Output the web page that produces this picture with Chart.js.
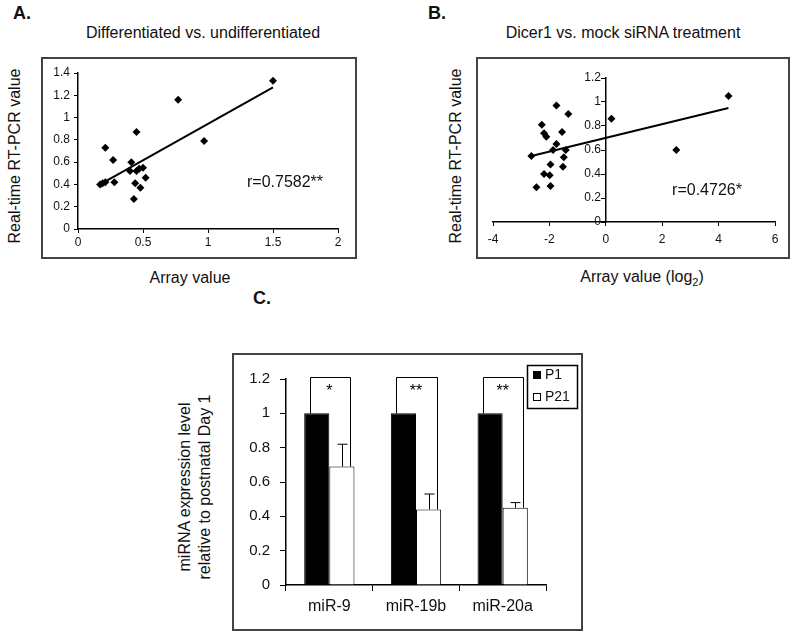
<!DOCTYPE html>
<html>
<head>
<meta charset="utf-8">
<script src="https://cdn.jsdelivr.net/npm/chart.js@4.4.1/dist/chart.umd.min.js"></script>
<style>
  body { margin: 0; background: #fff; width: 800px; height: 639px; position: relative; overflow: hidden;
         font-family: "Liberation Sans", Arial, sans-serif; color: #111; }
  .box { position: absolute; box-sizing: border-box; border: 2px solid #444; }
  .plot { position: absolute; }
  .txt { position: absolute; white-space: nowrap; transform: translate(-50%, -50%); font-size: 16px; line-height: 1.2; }
  .rot { transform: translate(-50%, -50%) rotate(-90deg); text-align: center; }
  .lab { font-weight: bold; font-size: 18px; }
</style>
</head>
<body>
<div class="box" style="left:41px;top:57px;width:316px;height:202px"></div>
<div class="box" style="left:476px;top:57px;width:314px;height:202px"></div>
<div class="box" style="left:232px;top:353px;width:351px;height:278px"></div>

<div class="plot" style="left:41px;top:57px;width:316px;height:202px"><canvas id="chartA"></canvas></div>
<div class="plot" style="left:476px;top:57px;width:314px;height:202px"><canvas id="chartB"></canvas></div>
<div class="plot" style="left:232px;top:353px;width:351px;height:278px"><canvas id="chartC"></canvas></div>

<div class="txt lab" style="left:22px;top:14px">A.</div>
<div class="txt lab" style="left:437px;top:14px">B.</div>
<div class="txt lab" style="left:262px;top:299px">C.</div>
<div class="txt" style="left:203px;top:33px">Differentiated vs. undifferentiated</div>
<div class="txt" style="left:623px;top:33px">Dicer1 vs. mock siRNA treatment</div>
<div class="txt rot" style="left:15px;top:156px">Real-time RT-PCR value</div>
<div class="txt rot" style="left:456px;top:156px">Real-time RT-PCR value</div>
<div class="txt" style="left:190px;top:278px">Array value</div>
<div class="txt" style="left:642px;top:278px">Array value (log<sub style="font-size:11px">2</sub>)</div>
<div class="txt" style="left:285px;top:182px">r=0.7582**</div>
<div class="txt" style="left:707px;top:190px">r=0.4726*</div>
<div class="txt rot" style="left:195px;top:487px;line-height:20px">miRNA expression level<br>relative to postnatal Day 1</div>

<script>
// Panel A: differentiated vs undifferentiated
const aArray = [1.50, 0.77, 0.45, 0.97, 0.21, 0.27, 0.41, 0.40, 0.45, 0.50, 0.47, 0.52, 0.44, 0.48, 0.43, 0.28, 0.21, 0.17, 0.19];
const aPcr = [1.33, 1.16, 0.87, 0.79, 0.73, 0.62, 0.60, 0.52, 0.52, 0.55, 0.54, 0.46, 0.41, 0.37, 0.27, 0.42, 0.42, 0.40, 0.41];
const aFitX = [0.17, 1.50];
const aFitY = [0.40, 1.27];
const aXTicks = [0, 0.5, 1, 1.5, 2];
const aYTicks = [0, 0.2, 0.4, 0.6, 0.8, 1, 1.2, 1.4];

// Panel B: Dicer1 vs mock siRNA
const bArray = [4.35, 0.20, 2.50, -1.75, -1.33, -2.27, -2.19, -2.11, -1.55, -1.75, -1.87, -1.42, -1.49, -2.64, -1.96, -1.52, -2.19, -1.99, -2.46, -1.96];
const bPcr = [1.05, 0.86, 0.60, 0.97, 0.90, 0.81, 0.74, 0.71, 0.75, 0.65, 0.60, 0.60, 0.54, 0.55, 0.48, 0.46, 0.40, 0.39, 0.29, 0.30];
const bFitX = [-2.64, 4.35];
const bFitY = [0.55, 0.95];
const bXTicks = [-4, -2, 0, 2, 4, 6];
const bYTicks = [0, 0.2, 0.4, 0.6, 0.8, 1, 1.2];

// Panel C: miRNA levels P1 vs P21
const cCats = ["miR-9", "miR-19b", "miR-20a"];
const cP1 = [1, 1, 1];
const cP21 = [0.69, 0.44, 0.45];
const cP21Err = [0.13, 0.09, 0.03];
const cStars = ["*", "**", "**"];
const cYTicks = [0, 0.2, 0.4, 0.6, 0.8, 1, 1.2];

Chart.defaults.font.family = "'Liberation Sans', Arial, sans-serif";
Chart.defaults.color = "#111";

const tickSet = (list) => (s) => { s.ticks = list.map((v) => ({ value: v })); };
const axisGrid = (len) => ({ display: true, drawOnChartArea: false, drawTicks: true, tickLength: len, color: "#000", lineWidth: 1 });
const axisBorder = { color: "#000", width: 1.5 };
const label = (v) => String(v);
// the centred y axis of B ignores ticks.padding, so pad the text itself
const padded = (v) => String(v) + "\u2009\u2009";

const diamonds = (xs, ys) => ({
    data: xs.map((x, i) => ({ x: x, y: ys[i] })),
    pointStyle: "rectRot",
    pointRadius: 4,
    backgroundColor: "#000",
    borderColor: "#000",
    borderWidth: 0,
});
const trend = (xs, ys) => ({
    data: xs.map((x, i) => ({ x: x, y: ys[i] })),
    showLine: true,
    pointRadius: 0,
    borderColor: "#000",
    borderWidth: 2,
});

const chartA = new Chart(document.getElementById("chartA"), {
    type: "scatter",
    data: { datasets: [trend(aFitX, aFitY), diamonds(aArray, aPcr)] },
    options: {
        responsive: true,
        maintainAspectRatio: false,
        animation: false,
        layout: { padding: { top: 16, right: 19, bottom: 0, left: 0 } },
        plugins: { legend: { display: false }, tooltip: { enabled: false } },
        scales: {
            x: {
                type: "linear", min: 0, max: 2,
                afterBuildTicks: tickSet(aXTicks),
                afterFit: (s) => { s.height = 30; },
                grid: axisGrid(4), border: axisBorder,
                ticks: { padding: 2, font: { size: 12 }, callback: label, autoSkip: false, maxRotation: 0 },
            },
            y: {
                type: "linear", min: 0, max: 1.4,
                afterBuildTicks: tickSet(aYTicks),
                afterFit: (s) => { s.width = 37; },
                grid: axisGrid(4), border: axisBorder,
                ticks: { padding: 4, font: { size: 12 }, callback: label, autoSkip: false },
            },
        },
    },
});

const chartB = new Chart(document.getElementById("chartB"), {
    type: "scatter",
    data: { datasets: [trend(bFitX, bFitY), diamonds(bArray, bPcr)] },
    options: {
        responsive: true,
        maintainAspectRatio: false,
        animation: false,
        layout: { padding: { top: 21, right: 15, bottom: 0, left: 17 } },
        plugins: { legend: { display: false }, tooltip: { enabled: false } },
        scales: {
            x: {
                type: "linear", min: -4, max: 6,
                afterBuildTicks: tickSet(bXTicks),
                afterFit: (s) => { s.height = 37; },
                grid: axisGrid(4), border: axisBorder,
                ticks: { padding: 6, font: { size: 12 }, callback: label, autoSkip: false, maxRotation: 0 },
            },
            y: {
                type: "linear", position: { x: 0 }, min: 0, max: 1.2,
                afterBuildTicks: tickSet(bYTicks),
                grid: axisGrid(4), border: axisBorder,
                ticks: { padding: 4, font: { size: 12 }, callback: padded, autoSkip: false },
            },
        },
    },
});

// error bars, significance brackets, stars and the boxed legend of panel C
const cExtras = {
    id: "cExtras",
    afterDatasetsDraw(chart) {
        const ctx = chart.ctx;
        const y = chart.scales.y;
        const m1 = chart.getDatasetMeta(0).data;
        const m2 = chart.getDatasetMeta(1).data;
        ctx.save();
        ctx.strokeStyle = "#000";
        ctx.fillStyle = "#000";
        ctx.lineWidth = 1;
        cCats.forEach((c, i) => {
            const ex = Math.round(m2[i].x) + 0.5;
            const top = y.getPixelForValue(cP21[i] + cP21Err[i]);
            ctx.beginPath();
            ctx.moveTo(ex, y.getPixelForValue(cP21[i]));
            ctx.lineTo(ex, top);
            ctx.moveTo(ex - 5, top);
            ctx.lineTo(ex + 5, top);
            ctx.stroke();

            const bl = Math.round(m1[i].x - 7) + 0.5;
            const br = Math.round(m2[i].x + 8) + 0.5;
            const bt = Math.round(y.getPixelForValue(1.21)) + 0.5;
            ctx.beginPath();
            ctx.moveTo(bl, y.getPixelForValue(cP1[i]));
            ctx.lineTo(bl, bt);
            ctx.lineTo(br, bt);
            ctx.lineTo(br, y.getPixelForValue(cP21[i]));
            ctx.stroke();

            ctx.font = "16px 'Liberation Sans', Arial, sans-serif";
            ctx.textAlign = "center";
            ctx.textBaseline = "alphabetic";
            ctx.fillText(cStars[i], (m1[i].x + m2[i].x) / 2, y.getPixelForValue(1.10));
        });

        // legend box
        const lx = 295, ly = 12, lw = 50, lh = 43;
        ctx.fillStyle = "#fff";
        ctx.fillRect(lx, ly, lw, lh);
        ctx.lineWidth = 1.5;
        ctx.strokeRect(lx + 0.5, ly + 0.5, lw, lh);
        ctx.lineWidth = 1;
        ctx.font = "14px 'Liberation Sans', Arial, sans-serif";
        ctx.textAlign = "left";
        ctx.textBaseline = "middle";
        chart.data.datasets.forEach((ds, i) => {
            const cy = ly + 10 + i * 22;
            ctx.fillStyle = ds.backgroundColor;
            ctx.fillRect(lx + 6.5, cy - 3.5, 7, 7);
            ctx.strokeRect(lx + 6.5, cy - 3.5, 7, 7);
            ctx.fillStyle = "#111";
            ctx.fillText(ds.label, lx + 18, cy);
        });
        ctx.restore();
    },
};

const chartC = new Chart(document.getElementById("chartC"), {
    type: "bar",
    data: {
        labels: cCats,
        datasets: [
            { label: "P1", data: cP1, backgroundColor: "#000", borderColor: "#000", borderWidth: 1 },
            { label: "P21", data: cP21, backgroundColor: "#fff", borderColor: "#000", borderWidth: 1 },
        ],
    },
    options: {
        responsive: true,
        maintainAspectRatio: false,
        animation: false,
        datasets: { bar: { categoryPercentage: 0.58, barPercentage: 1 } },
        layout: { padding: { top: 26, right: 37, bottom: 0, left: 0 } },
        plugins: { legend: { display: false }, tooltip: { enabled: false } },
        scales: {
            x: {
                afterFit: (s) => { s.height = 46; },
                grid: Object.assign(axisGrid(6), { offset: true }), border: axisBorder,
                ticks: { padding: 6, font: { size: 16 }, autoSkip: false, maxRotation: 0 },
            },
            y: {
                min: 0, max: 1.2,
                afterBuildTicks: tickSet(cYTicks),
                afterFit: (s) => { s.width = 54; },
                grid: axisGrid(6), border: axisBorder,
                ticks: { padding: 10, font: { size: 15 }, callback: label, autoSkip: false },
            },
        },
    },
    plugins: [cExtras],
});
</script>
</body>
</html>
